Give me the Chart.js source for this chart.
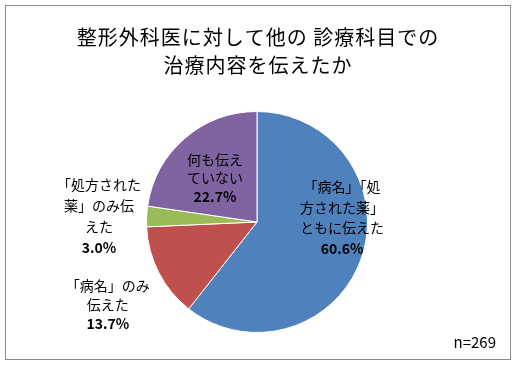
<!DOCTYPE html>
<html><head><meta charset="utf-8">
<script src="https://cdn.jsdelivr.net/npm/chart.js@4.4.1/dist/chart.umd.min.js"></script>
<style>html,body{margin:0;padding:0;background:#fff;}#wrap{width:520px;height:366px;position:relative;}</style>
</head><body><div id="wrap"><canvas id="c" width="520" height="366"></canvas></div>
<script>
const titleLines = ["整形外科医に対して他の 診療科目での", "治療内容を伝えたか"];
const categories = ["「病名」「処方された薬」ともに伝えた", "「病名」のみ伝えた", "「処方された薬」のみ伝えた", "何も伝えていない"];
const values = [60.6, 13.7, 3.0, 22.7];
const labelLines = [["「病名」「処", "方された薬」", "ともに伝えた"], ["「病名」のみ", "伝えた"], ["「処方された", "薬」のみ伝", "えた"], ["何も伝え", "ていない"]];
const sampleNote = "n=269";
const colors = ["#4F81BD", "#C0504D", "#9BBB59", "#8064A2"];
// label anchor offsets relative to pie center, in units of radius
const anchors = [[0.77, -0.04], [-1.35, 0.75], [-1.43, -0.05], [-0.38, -0.40]];
const lineGaps = [20.5, 19, 21, 18.5];
const FONT = '"Noto Sans CJK JP", "Noto Sans", sans-serif';

const deco = {
  id: 'deco',
  beforeDraw(chart) {
    const ctx = chart.ctx;
    ctx.save();
    ctx.fillStyle = '#fff';
    ctx.fillRect(0, 0, chart.width, chart.height);
    ctx.strokeStyle = '#8c8c8c';
    ctx.lineWidth = 1;
    ctx.strokeRect(5.5, 5.5, 505, 354);
    ctx.fillStyle = '#000';
    ctx.textAlign = 'center';
    ctx.textBaseline = 'middle';
    ctx.font = '20px ' + FONT;
    try { ctx.letterSpacing = '1px'; } catch (e) {}
    ctx.fillText(titleLines[0], 258, 37);
    ctx.fillText(titleLines[1], 258, 65);
    try { ctx.letterSpacing = '0px'; } catch (e) {}
    ctx.font = '15px ' + FONT;
    ctx.textAlign = 'right';
    ctx.fillText(sampleNote, 496, 342);
    ctx.restore();
  },
  afterDatasetsDraw(chart) {
    const ctx = chart.ctx;
    const meta = chart.getDatasetMeta(0);
    ctx.save();
    ctx.textAlign = 'center';
    ctx.textBaseline = 'middle';
    ctx.fillStyle = '#000';
    meta.data.forEach((arc, i) => {
      const r = arc.outerRadius;
      const cx = arc.x + anchors[i][0] * r;
      const cy = arc.y + anchors[i][1] * r;
      const lines = labelLines[i].concat([values[i].toFixed(1) + '%']);
      const g = lineGaps[i];
      const y0 = cy - g * (lines.length - 1) / 2;
      lines.forEach((t, k) => {
        const last = k === lines.length - 1;
        ctx.font = (last ? 'bold 14px ' : '14px ') + FONT;
        ctx.fillText(t, cx, y0 + k * g);
      });
    });
    ctx.restore();
  }
};

new Chart(document.getElementById('c'), {
  type: 'pie',
  data: { labels: categories, datasets: [{ data: values, backgroundColor: colors, borderColor: '#fff', borderWidth: 1 }] },
  options: {
    responsive: false, animation: false, devicePixelRatio: 1,
    layout: { padding: { left: 146, right: 152, top: 111, bottom: 33 } },
    plugins: { legend: { display: false }, tooltip: { enabled: false }, title: { display: false } }
  },
  plugins: [deco]
});
</script></body></html>
